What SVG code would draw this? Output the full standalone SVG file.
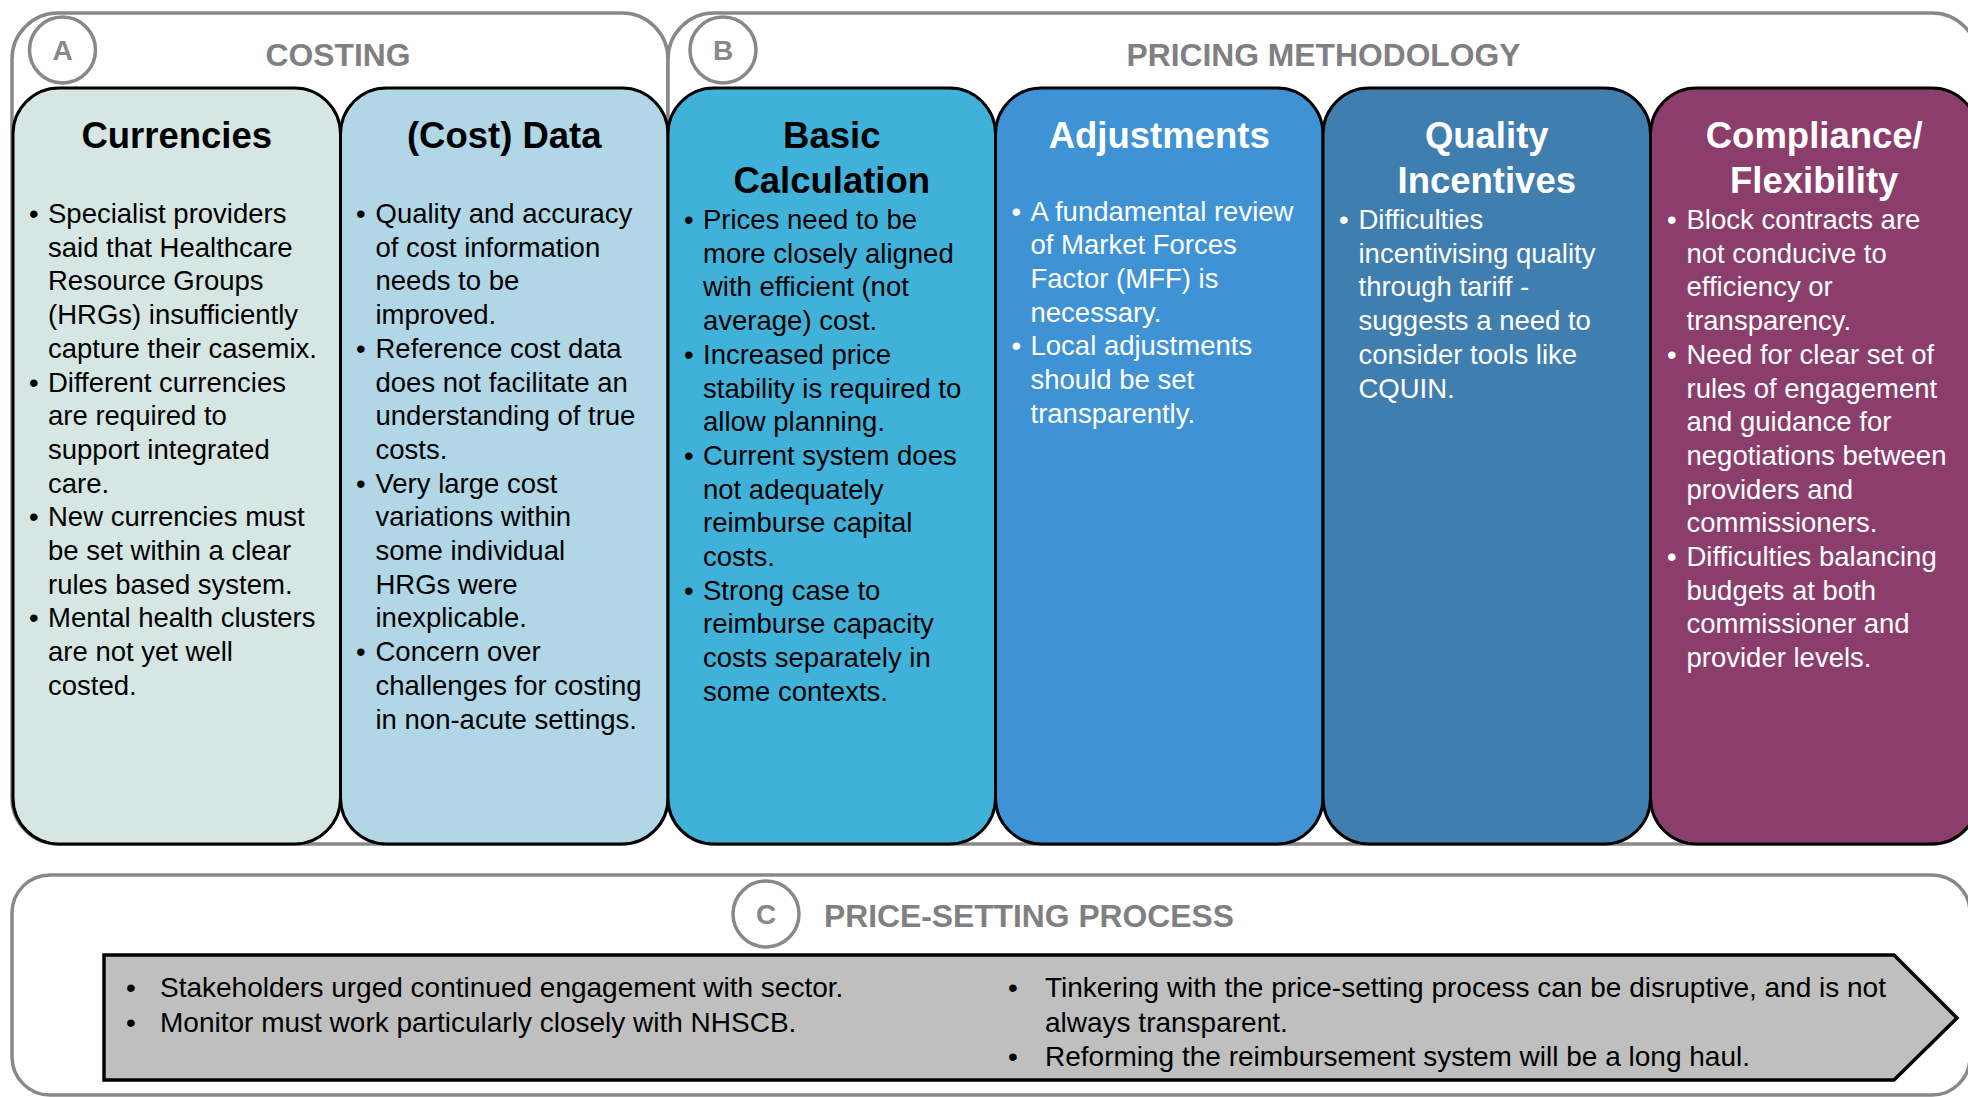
<svg xmlns="http://www.w3.org/2000/svg" width="1968" height="1097" viewBox="0 0 1968 1097">
  <style>
    text { font-family: "Liberation Sans", Arial, sans-serif; }
    .frame { fill: #ffffff; stroke: #888888; stroke-width: 3.5; }
    .badge { fill: #ffffff; stroke: #888888; stroke-width: 3.5; }
    .badge-t { font-size: 28px; font-weight: bold; fill: #888888; text-anchor: middle; }
    .sec { font-size: 31.8px; font-weight: bold; fill: #808080; }
    .col { stroke: #000000; stroke-width: 3; }
    .hd { font-size: 36.5px; font-weight: bold; text-anchor: middle; }
    .bd { font-size: 27.5px; }
    .ar { font-size: 28px; fill: #000000; }
    .dark { fill: #000000; }
    .light { fill: #ffffff; }
  </style>

  <!-- Section frames A (costing) and B (pricing methodology) -->
  <g id="section-a">
    <rect class="frame" x="12" y="13" width="656" height="831" rx="46"/>
    <circle class="badge" cx="62.5" cy="50" r="33"/>
    <text class="badge-t" x="62.5" y="60">A</text>
    <text class="sec" x="338" y="66" text-anchor="middle">COSTING</text>
  </g>
  <g id="section-b">
    <rect class="frame" x="668" y="13" width="1310" height="831" rx="46"/>
    <circle class="badge" cx="723" cy="50" r="33"/>
    <text class="badge-t" x="723" y="60">B</text>
    <text class="sec" x="1323.5" y="66" text-anchor="middle">PRICING METHODOLOGY</text>
  </g>

  <!-- Column 1: Currencies -->
  <g id="currencies">
    <rect class="col" x="13" y="88" width="327.5" height="756" rx="46" fill="#d6e6e3"/>
    <text class="hd dark" x="176.75" y="148">Currencies</text>
    <text class="bd dark" x="29" y="223">
      <tspan x="29" dy="0">•</tspan>
      <tspan x="29" dy="168.5">•</tspan>
      <tspan x="29" dy="134.8">•</tspan>
      <tspan x="29" dy="101.1">•</tspan>
    </text>
    <text class="bd dark" x="48" y="223">
      <tspan x="48" dy="0">Specialist providers</tspan>
      <tspan x="48" dy="33.7">said that Healthcare</tspan>
      <tspan x="48" dy="33.7">Resource Groups</tspan>
      <tspan x="48" dy="33.7">(HRGs) insufficiently</tspan>
      <tspan x="48" dy="33.7">capture their casemix.</tspan>
      <tspan x="48" dy="33.7">Different currencies</tspan>
      <tspan x="48" dy="33.7">are required to</tspan>
      <tspan x="48" dy="33.7">support integrated</tspan>
      <tspan x="48" dy="33.7">care.</tspan>
      <tspan x="48" dy="33.7">New currencies must</tspan>
      <tspan x="48" dy="33.7">be set within a clear</tspan>
      <tspan x="48" dy="33.7">rules based system.</tspan>
      <tspan x="48" dy="33.7">Mental health clusters</tspan>
      <tspan x="48" dy="33.7">are not yet well</tspan>
      <tspan x="48" dy="33.7">costed.</tspan>
    </text>
  </g>

  <!-- Column 2: (Cost) Data -->
  <g id="cost-data">
    <rect class="col" x="340.5" y="88" width="327.5" height="756" rx="46" fill="#b1d6e6"/>
    <text class="hd dark" x="504.25" y="148">(Cost) Data</text>
    <text class="bd dark" x="356" y="223">
      <tspan x="356" dy="0">•</tspan>
      <tspan x="356" dy="134.8">•</tspan>
      <tspan x="356" dy="134.8">•</tspan>
      <tspan x="356" dy="168.5">•</tspan>
    </text>
    <text class="bd dark" x="375.5" y="223">
      <tspan x="375.5" dy="0">Quality and accuracy</tspan>
      <tspan x="375.5" dy="33.7">of cost information</tspan>
      <tspan x="375.5" dy="33.7">needs to be</tspan>
      <tspan x="375.5" dy="33.7">improved.</tspan>
      <tspan x="375.5" dy="33.7">Reference cost data</tspan>
      <tspan x="375.5" dy="33.7">does not facilitate an</tspan>
      <tspan x="375.5" dy="33.7">understanding of true</tspan>
      <tspan x="375.5" dy="33.7">costs.</tspan>
      <tspan x="375.5" dy="33.7">Very large cost</tspan>
      <tspan x="375.5" dy="33.7">variations within</tspan>
      <tspan x="375.5" dy="33.7">some individual</tspan>
      <tspan x="375.5" dy="33.7">HRGs were</tspan>
      <tspan x="375.5" dy="33.7">inexplicable.</tspan>
      <tspan x="375.5" dy="33.7">Concern over</tspan>
      <tspan x="375.5" dy="33.7">challenges for costing</tspan>
      <tspan x="375.5" dy="33.7">in non-acute settings.</tspan>
    </text>
  </g>

  <!-- Column 3: Basic Calculation -->
  <g id="basic-calculation">
    <rect class="col" x="668" y="88" width="327.5" height="756" rx="46" fill="#40b2d9"/>
    <text class="hd dark" x="831.75" y="148">Basic</text>
    <text class="hd dark" x="831.75" y="193">Calculation</text>
    <text class="bd dark" x="684" y="229">
      <tspan x="684" dy="0">•</tspan>
      <tspan x="684" dy="134.8">•</tspan>
      <tspan x="684" dy="101.1">•</tspan>
      <tspan x="684" dy="134.8">•</tspan>
    </text>
    <text class="bd dark" x="703" y="229">
      <tspan x="703" dy="0">Prices need to be</tspan>
      <tspan x="703" dy="33.7">more closely aligned</tspan>
      <tspan x="703" dy="33.7">with efficient (not</tspan>
      <tspan x="703" dy="33.7">average) cost.</tspan>
      <tspan x="703" dy="33.7">Increased price</tspan>
      <tspan x="703" dy="33.7">stability is required to</tspan>
      <tspan x="703" dy="33.7">allow planning.</tspan>
      <tspan x="703" dy="33.7">Current system does</tspan>
      <tspan x="703" dy="33.7">not adequately</tspan>
      <tspan x="703" dy="33.7">reimburse capital</tspan>
      <tspan x="703" dy="33.7">costs.</tspan>
      <tspan x="703" dy="33.7">Strong case to</tspan>
      <tspan x="703" dy="33.7">reimburse capacity</tspan>
      <tspan x="703" dy="33.7">costs separately in</tspan>
      <tspan x="703" dy="33.7">some contexts.</tspan>
    </text>
  </g>

  <!-- Column 4: Adjustments -->
  <g id="adjustments">
    <rect class="col" x="995.5" y="88" width="327.5" height="756" rx="46" fill="#3f93d4"/>
    <text class="hd light" x="1159.25" y="148">Adjustments</text>
    <text class="bd light" x="1011.5" y="220.5">
      <tspan x="1011.5" dy="0">•</tspan>
      <tspan x="1011.5" dy="134.8">•</tspan>
    </text>
    <text class="bd light" x="1030.5" y="220.5">
      <tspan x="1030.5" dy="0">A fundamental review</tspan>
      <tspan x="1030.5" dy="33.7">of Market Forces</tspan>
      <tspan x="1030.5" dy="33.7">Factor (MFF) is</tspan>
      <tspan x="1030.5" dy="33.7">necessary.</tspan>
      <tspan x="1030.5" dy="33.7">Local adjustments</tspan>
      <tspan x="1030.5" dy="33.7">should be set</tspan>
      <tspan x="1030.5" dy="33.7">transparently.</tspan>
    </text>
  </g>

  <!-- Column 5: Quality Incentives -->
  <g id="quality-incentives">
    <rect class="col" x="1323" y="88" width="327.5" height="756" rx="46" fill="#3f7eae"/>
    <text class="hd light" x="1486.75" y="148">Quality</text>
    <text class="hd light" x="1486.75" y="193">Incentives</text>
    <text class="bd light" x="1339" y="229">•</text>
    <text class="bd light" x="1358.5" y="229">
      <tspan x="1358.5" dy="0">Difficulties</tspan>
      <tspan x="1358.5" dy="33.7">incentivising quality</tspan>
      <tspan x="1358.5" dy="33.7">through tariff -</tspan>
      <tspan x="1358.5" dy="33.7">suggests a need to</tspan>
      <tspan x="1358.5" dy="33.7">consider tools like</tspan>
      <tspan x="1358.5" dy="33.7">CQUIN.</tspan>
    </text>
  </g>

  <!-- Column 6: Compliance / Flexibility -->
  <g id="compliance-flexibility">
    <rect class="col" x="1650.5" y="88" width="327.5" height="756" rx="46" fill="#8b3e6b"/>
    <text class="hd light" x="1814.25" y="148">Compliance/</text>
    <text class="hd light" x="1814.25" y="193">Flexibility</text>
    <text class="bd light" x="1667" y="229">
      <tspan x="1667" dy="0">•</tspan>
      <tspan x="1667" dy="134.8">•</tspan>
      <tspan x="1667" dy="202.2">•</tspan>
    </text>
    <text class="bd light" x="1686.5" y="229">
      <tspan x="1686.5" dy="0">Block contracts are</tspan>
      <tspan x="1686.5" dy="33.7">not conducive to</tspan>
      <tspan x="1686.5" dy="33.7">efficiency or</tspan>
      <tspan x="1686.5" dy="33.7">transparency.</tspan>
      <tspan x="1686.5" dy="33.7">Need for clear set of</tspan>
      <tspan x="1686.5" dy="33.7">rules of engagement</tspan>
      <tspan x="1686.5" dy="33.7">and guidance for</tspan>
      <tspan x="1686.5" dy="33.7">negotiations between</tspan>
      <tspan x="1686.5" dy="33.7">providers and</tspan>
      <tspan x="1686.5" dy="33.7">commissioners.</tspan>
      <tspan x="1686.5" dy="33.7">Difficulties balancing</tspan>
      <tspan x="1686.5" dy="33.7">budgets at both</tspan>
      <tspan x="1686.5" dy="33.7">commissioner and</tspan>
      <tspan x="1686.5" dy="33.7">provider levels.</tspan>
    </text>
  </g>

  <!-- Section C: price-setting process -->
  <g id="section-c">
    <rect class="frame" x="12" y="875" width="1958" height="220" rx="38"/>
    <circle class="badge" cx="766" cy="914" r="33"/>
    <text class="badge-t" x="766" y="924">C</text>
    <text class="sec" x="824" y="927">PRICE-SETTING PROCESS</text>
  </g>

  <g id="process-arrow">
    <polygon points="104,955 1894,955 1957,1018 1894,1080 104,1080" fill="#bfbfbf" stroke="#000000" stroke-width="3.5"/>
    <text class="ar" x="126" y="997">
      <tspan x="126" dy="0">•</tspan>
      <tspan x="126" dy="34.5">•</tspan>
    </text>
    <text class="ar" x="160" y="997">
      <tspan x="160" dy="0">Stakeholders urged continued engagement with sector.</tspan>
      <tspan x="160" dy="34.5">Monitor must work particularly closely with NHSCB.</tspan>
    </text>
    <text class="ar" x="1008" y="997">
      <tspan x="1008" dy="0">•</tspan>
      <tspan x="1008" dy="68.5">•</tspan>
    </text>
    <text class="ar" x="1045" y="997">
      <tspan x="1045" dy="0">Tinkering with the price-setting process can be disruptive, and is not</tspan>
      <tspan x="1045" dy="34.5">always transparent.</tspan>
      <tspan x="1045" dy="34">Reforming the reimbursement system will be a long haul.</tspan>
    </text>
  </g>
</svg>
